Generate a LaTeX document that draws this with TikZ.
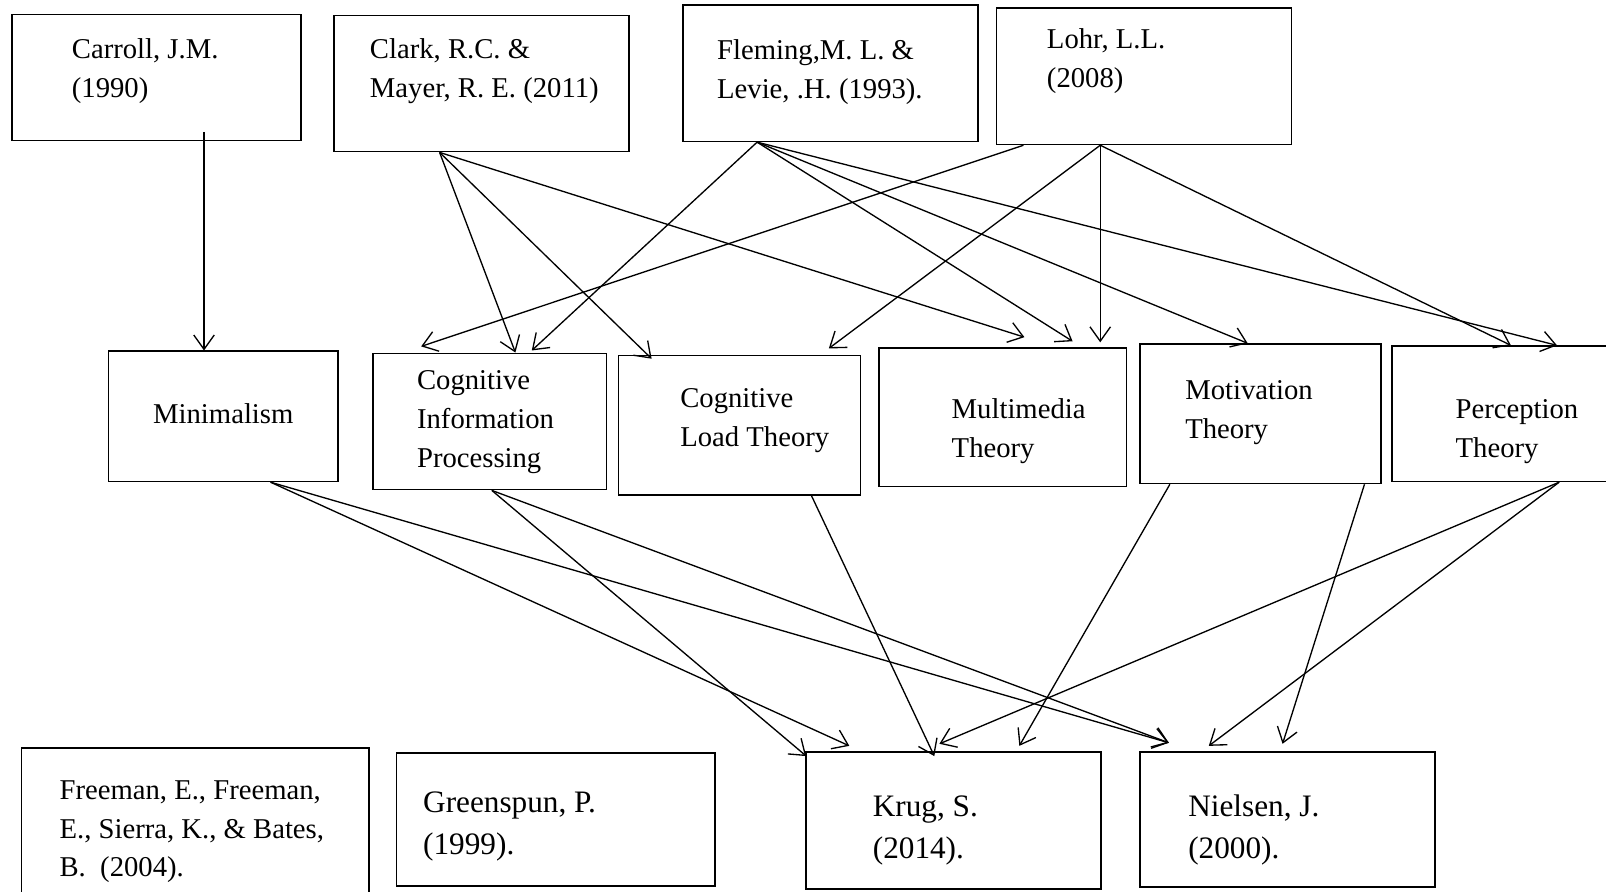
\documentclass[tikz,border=0pt]{standalone}
\usepackage{fontspec}
\setmainfont{Liberation Serif}
\usetikzlibrary{arrows.meta}

\tikzset{
  box/.style={draw, line width=1.6pt, inner sep=0pt},
  txt/.style={align=left, anchor=west, inner sep=0pt, font=\fontsize{28}{38}\selectfont},
  bigtxt/.style={txt, font=\fontsize{30.5}{41}\selectfont},
  arr/.style={-{Straight Barb[length=14pt,width=20pt]}, line width=1.3pt},
}

\begin{document}
\begin{tikzpicture}[x=1pt,y=-1pt]
\path[fill=white,use as bounding box] (0,0) rectangle (1568,870);
\clip (0,0) rectangle (1568,870);

% sources
\node[box, minimum width=282, minimum height=123] (carroll) at (153,75.5) {};
\node[box, minimum width=288, minimum height=133] (clark) at (470,81.5) {};
\node[box, minimum width=288, minimum height=133] (fleming) at (811,71.5) {};
\node[box, minimum width=288, minimum height=133] (lohr) at (1117,74.5) {};
\node[txt] (carroll-t) at (70,69.5) {Carroll, J.M.\\(1990)};
\node[txt] (clark-t) at (361,69.5) {Clark, R.C. \&\\Mayer, R. E. (2011)};
\node[txt] (fleming-t) at (700,70.5) {Fleming,M. L. \&\\Levie, .H. (1993).};
\node[txt] (lohr-t) at (1022,60) {Lohr, L.L.\\(2008)};

% theories
\node[box, minimum width=224, minimum height=127] (minim) at (218,406.5) {};
\node[box, minimum width=228, minimum height=133] (cip) at (478,411.5) {};
\node[box, minimum width=236, minimum height=136] (clt) at (722,415) {};
\node[box, minimum width=242, minimum height=135] (multi) at (979,407.5) {};
\node[box, minimum width=235, minimum height=136] (motiv) at (1230.5,404) {};
\node[box, minimum width=241, minimum height=132] (percep) at (1479.5,404) {};
\node[txt, anchor=center] (minim-t) at (218,404) {Minimalism};
\node[txt] (cip-t) at (407,412) {Cognitive\\Information\\Processing};
\node[txt] (clt-t) at (664,410.5) {Cognitive\\Load Theory};
\node[txt] (multi-t) at (929,421) {Multimedia\\Theory};
\node[txt] (motiv-t) at (1157,403) {Motivation\\Theory};
\node[txt] (percep-t) at (1421,421) {Perception\\Theory};

% books
\node[box, minimum width=339, minimum height=170] (freeman) at (190.5,815) {};
\node[box, minimum width=311, minimum height=130] (green) at (542.5,800) {};
\node[box, minimum width=288, minimum height=134] (krug) at (931,801) {};
\node[box, minimum width=288, minimum height=132] (nielsen) at (1257,800) {};
\node[txt] (freeman-t) at (58,812) {Freeman, E., Freeman,\\E., Sierra, K., \& Bates,\\B.~~(2004).};
\node[bigtxt] (green-t) at (413,806.5) {Greenspun, P.\\(1999).};
\node[bigtxt] (krug-t) at (852,811) {Krug, S.\\(2014).};
\node[bigtxt] (nielsen-t) at (1160,810.5) {Nielsen, J.\\(2000).};

\path[arr]
  ([xshift=188pt,yshift=9pt]carroll.south west) edge ([xshift=94pt]minim.north west)
  ([xshift=104pt]clark.south west) edge ([xshift=140pt]cip.north west)
  ([xshift=104pt]clark.south west) edge ([xshift=33pt,yshift=-4pt]clt.north west)
  ([xshift=104pt]clark.south west) edge ([xshift=143pt,yshift=10pt]multi.north west)
  ([xshift=73pt]fleming.south west) edge ([xshift=156pt,yshift=2pt]cip.north west)
  ([xshift=73pt]fleming.south west) edge ([xshift=190pt,yshift=6pt]multi.north west)
  ([xshift=73pt]fleming.south west) edge ([xshift=106pt]motiv.north west)
  ([xshift=73pt]fleming.south west) edge ([xshift=162pt]percep.north west)
  ([xshift=27pt]lohr.south west) edge ([xshift=48pt,yshift=6pt]cip.north west)
  ([xshift=102pt]lohr.south west) edge ([xshift=206pt,yshift=6pt]clt.north west)
  ([xshift=102pt]lohr.south west) edge ([xshift=217pt,yshift=5pt]multi.north west)
  ([xshift=102pt]lohr.south west) edge ([xshift=117pt]percep.north west);

\path[arr]
  ([xshift=159pt]minim.south west) edge ([xshift=43pt,yshift=5pt]krug.north west)
  ([xshift=159pt]minim.south west) edge ([xshift=29pt,yshift=8pt]nielsen.north west)
  ([xshift=117pt]cip.south west) edge ([xshift=1pt,yshift=-5pt]krug.north west)
  ([xshift=117pt]cip.south west) edge ([xshift=29pt,yshift=8pt]nielsen.north west)
  ([xshift=189pt]clt.south west) edge ([xshift=126pt,yshift=-5pt]krug.north west)
  ([xshift=30pt]motiv.south west) edge ([xshift=209pt,yshift=5pt]krug.north west)
  ([xshift=220pt]motiv.south west) edge ([xshift=140pt,yshift=7pt]nielsen.north west)
  ([xshift=164pt]percep.south west) edge ([xshift=131pt,yshift=7pt]krug.north west)
  ([xshift=164pt]percep.south west) edge ([xshift=68pt,yshift=5pt]nielsen.north west);
\end{tikzpicture}
\end{document}
